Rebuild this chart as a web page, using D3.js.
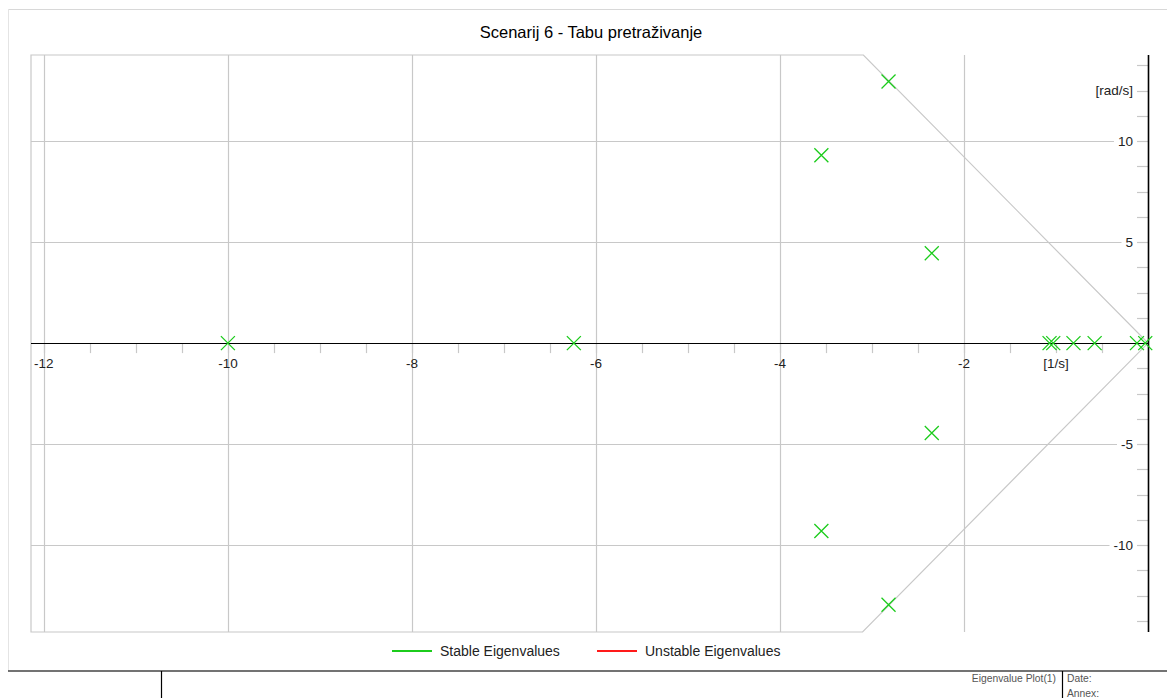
<!DOCTYPE html>
<html>
<head>
<meta charset="utf-8">
<script src="https://cdn.jsdelivr.net/npm/d3@7"></script>
<style>
  html, body { margin: 0; padding: 0; background: #fff; }
  svg { display: block; font-family: "Liberation Sans", Arial, sans-serif; }
</style>
</head>
<body>
<svg id="chart" width="1167" height="698"></svg>
<script>
// ---- data ----
const chartTitle = "Scenarij 6 - Tabu pretraživanje";
const realParts = [-10, -6.24, -3.55, -3.55, -2.82, -2.82, -2.35, -2.35, -1.07, -1.03, -0.81, -0.58, -0.12, -0.03];
const imagParts = [0, 0, 9.3, -9.3, 12.95, -12.95, 4.45, -4.45, 0, 0, 0, 0, 0, 0];
const xMajorTicks = [-12, -10, -8, -6, -4, -2];
const xUnitTick = -1;
const xUnitLabel = "[1/s]";
const yMajorTicks = [10, 5, -5, -10];
const yUnitTick = 12.5;
const yUnitLabel = "[rad/s]";
const dampingRatio = 0.212;
const legendLabels = ["Stable Eigenvalues", "Unstable Eigenvalues"];
const legendColors = ["#1ccc1c", "#ff1a1a"];
const footerLabels = ["Eigenvalue Plot(1)", "Date:", "Annex:"];

// ---- layout ----
const svg = d3.select("#chart");
const x = d3.scaleLinear().domain([-12.14, 0]).range([31, 1148]);
const y = d3.scaleLinear().domain([-14.3, 14.26]).range([632, 55]);
const gridColor = "#c8c8c8";
const green = legendColors[0];

// outer frame
svg.append("line").attr("x1", 8).attr("x2", 1167).attr("y1", 9.5).attr("y2", 9.5)
  .attr("stroke", "#d8d8d8").attr("stroke-width", 1);
svg.append("line").attr("x1", 8.5).attr("x2", 8.5).attr("y1", 9).attr("y2", 671)
  .attr("stroke", "#e4e4e4").attr("stroke-width", 1);

// title
svg.append("text").attr("x", 591).attr("y", 38).attr("text-anchor", "middle")
  .attr("font-size", 16.5).attr("fill", "#000").text(chartTitle);

const [yMin, yMax] = y.domain();
const slope = Math.sqrt(1 - dampingRatio * dampingRatio) / dampingRatio;
const cornerRe = -yMax / slope;
const cornerReBottom = yMin / slope;

// vertical gridlines
svg.append("g").selectAll("line").data(xMajorTicks).join("line")
  .attr("x1", d => Math.round(x(d)) + 0.5).attr("x2", d => Math.round(x(d)) + 0.5)
  .attr("y1", y(yMax)).attr("y2", y(yMin))
  .attr("stroke", gridColor).attr("stroke-width", 1.2);

// frame polygon (left border, top, damping boundary, bottom)
const framePts = [
  [x.domain()[0], yMax], [cornerRe, yMax], [0, 0], [cornerReBottom, yMin], [x.domain()[0], yMin]
];
svg.append("path")
  .attr("d", d3.line().x(d => x(d[0])).y(d => y(d[1]))(framePts) + "Z")
  .attr("fill", "none").attr("stroke", gridColor).attr("stroke-width", 1.2);

// y tick labels (with gridlines stopping before the label)
const yLabelData = yMajorTicks.map(v => ({v, t: String(v)})).concat([{v: yUnitTick, t: yUnitLabel}]);
const yLab = svg.append("g").selectAll("text").data(yLabelData).join("text")
  .attr("x", 1133).attr("y", d => y(d.v)).attr("dy", "0.35em")
  .attr("text-anchor", "end").attr("font-size", 13.5).attr("fill", "#222")
  .text(d => d.t);
yLab.each(function(d) {
  if (yMajorTicks.includes(d.v)) {
    const w = this.getComputedTextLength();
    svg.insert("line", "g")
      .attr("x1", x.range()[0]).attr("x2", 1133 - w - 4)
      .attr("y1", Math.round(y(d.v)) + 0.5).attr("y2", Math.round(y(d.v)) + 0.5)
      .attr("stroke", gridColor).attr("stroke-width", 1.2);
  }
});

// y minor ticks every 1.25
const yMinor = d3.range(-11, 12).map(i => i * 1.25);
svg.append("g").selectAll("line").data(yMinor).join("line")
  .attr("x1", x(0) - 11).attr("x2", x(0))
  .attr("y1", d => Math.round(y(d)) + 0.5).attr("y2", d => Math.round(y(d)) + 0.5)
  .attr("stroke", gridColor).attr("stroke-width", 1.2);

// x minor ticks every 0.5
const xMinor = d3.range(-24, 0).map(i => i * 0.5);
svg.append("g").selectAll("line").data(xMinor).join("line")
  .attr("x1", d => Math.round(x(d)) + 0.5).attr("x2", d => Math.round(x(d)) + 0.5)
  .attr("y1", y(0)).attr("y2", y(0) + 10)
  .attr("stroke", gridColor).attr("stroke-width", 1.2);

// x tick labels
const xLabelData = xMajorTicks.map(v => ({v, t: String(v)})).concat([{v: xUnitTick, t: xUnitLabel}]);
svg.append("g").selectAll("text").data(xLabelData).join("text")
  .attr("x", d => x(d.v)).attr("y", y(0) + 25)
  .attr("text-anchor", "middle").attr("font-size", 13.5).attr("fill", "#222")
  .text(d => d.t);

// axes lines
svg.append("line").attr("x1", x.range()[0]).attr("x2", x(0))
  .attr("y1", Math.round(y(0)) + 0.5).attr("y2", Math.round(y(0)) + 0.5)
  .attr("stroke", "#000").attr("stroke-width", 1.2);
svg.append("line").attr("x1", Math.round(x(0)) + 0.5).attr("x2", Math.round(x(0)) + 0.5)
  .attr("y1", y(yMax)).attr("y2", y(yMin))
  .attr("stroke", "#000").attr("stroke-width", 1.6);

// eigenvalue crosses
const pts = realParts.map((r, i) => [r, imagParts[i]]);
const s = 7;
svg.append("g").selectAll("path").data(pts).join("path")
  .attr("d", d => {
    const cx = x(d[0]), cy = y(d[1]);
    return `M${cx - s},${cy - s}L${cx + s},${cy + s}M${cx - s},${cy + s}L${cx + s},${cy - s}`;
  })
  .attr("stroke", green).attr("stroke-width", 1.3).attr("fill", "none");

// legend
const legX = [392, 597];
const lg = svg.append("g").selectAll("g").data(legendLabels).join("g")
  .attr("transform", (d, i) => `translate(${legX[i]},651)`);
lg.append("line").attr("x1", 0).attr("x2", 40).attr("y1", 0).attr("y2", 0)
  .attr("stroke", (d, i) => legendColors[i]).attr("stroke-width", 2);
lg.append("text").attr("x", 48).attr("y", 0).attr("dy", "0.35em")
  .attr("font-size", 14).attr("fill", "#222").text(d => d);

// footer
svg.append("line").attr("x1", 8).attr("x2", 1167).attr("y1", 671).attr("y2", 671)
  .attr("stroke", "#444").attr("stroke-width", 1.6);
svg.append("line").attr("x1", 161.5).attr("x2", 161.5).attr("y1", 671).attr("y2", 698)
  .attr("stroke", "#000").attr("stroke-width", 1.2);
svg.append("line").attr("x1", 1062.5).attr("x2", 1062.5).attr("y1", 671).attr("y2", 698)
  .attr("stroke", "#000").attr("stroke-width", 1.2);
svg.append("text").attr("x", 1056).attr("y", 682).attr("text-anchor", "end")
  .attr("font-size", 10.3).attr("fill", "#555").text(footerLabels[0]);
svg.append("text").attr("x", 1067).attr("y", 682)
  .attr("font-size", 10.3).attr("fill", "#555").text(footerLabels[1]);
svg.append("text").attr("x", 1067).attr("y", 696.5)
  .attr("font-size", 10.3).attr("fill", "#555").text(footerLabels[2]);
</script>
</body>
</html>
